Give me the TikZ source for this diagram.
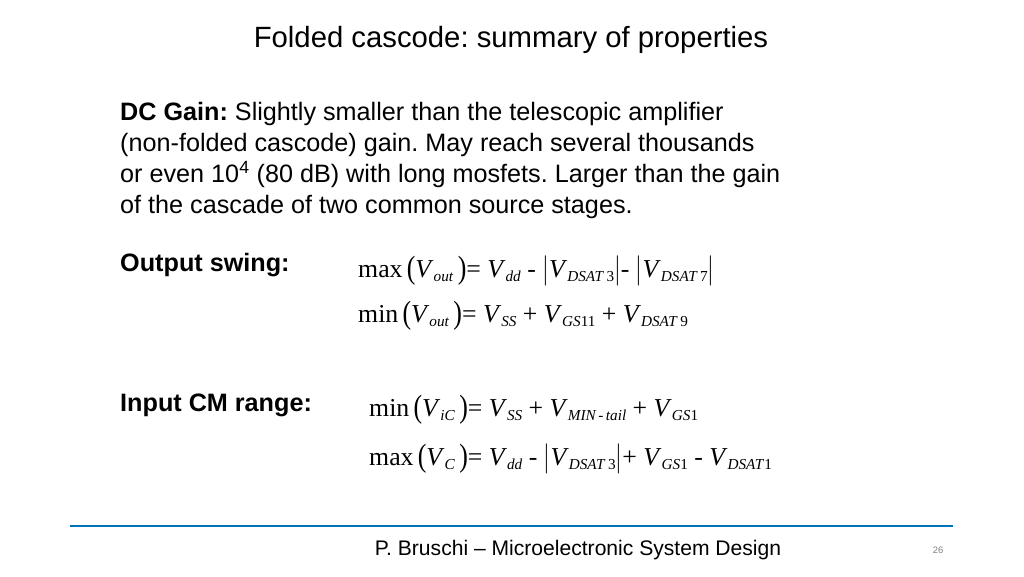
\documentclass[tikz,border=0pt]{standalone}
\usepackage{fontspec}
\setmainfont{Liberation Sans}
\newfontfamily\eqfont{Liberation Serif}
\usepackage{graphicx}
\usetikzlibrary{positioning}
\frenchspacing
\definecolor{rulebl}{RGB}{0,114,188}
\newcommand\Vs[2]{\textit{V}\raisebox{-0.4ex}{\fontsize{13}{13}\selectfont\textit{#1}#2}}
\newcommand\Bra[1]{\raisebox{-0.15ex}{\scalebox{1}[1.25]{#1}}}
\begin{document}
\begin{tikzpicture}[x=0.03cm,y=-0.03cm,
  bodytxt/.style={anchor=base west,inner sep=0pt,font=\fontsize{21.5}{24}\selectfont},
  eqtxt/.style={anchor=base west,inner sep=0pt,font=\eqfont\fontsize{22}{24}\selectfont}]
\useasboundingbox (0,0) rectangle (1024,576);

\node [font=\fontsize{25}{28}\selectfont] (title) at (511,40) {Folded cascode: summary of properties};

% DC gain paragraph
\node [bodytxt] (dc1) at (120,120) {\textbf{DC Gain:} Slightly smaller than the telescopic amplifier};
\node [bodytxt] (dc2) at (120,151) {(non-folded cascode) gain. May reach several thousands};
\node [bodytxt] (dc3) at (120,182) {or even 10\textsuperscript{4} (80 dB) with long mosfets. Larger than the gain};
\node [bodytxt] (dc4) at (120,213) {of the cascade of two common source stages.};

% output swing
\node [bodytxt] (outlbl) at (120,271) {\textbf{Output swing:}};
\node [eqtxt] (outmax) at (358,277) {max\,\Bra{(}\Vs{out}{}\,\Bra{)}=\ \Vs{dd}{}\ -\ \Bra{$|$}\Vs{DSAT}{\,3}\Bra{$|$}-\ \Bra{$|$}\Vs{DSAT}{\,7}\Bra{$|$}};
\node [eqtxt] (outmin) at (358,322) {min\,\Bra{(}\Vs{out}{}\,\Bra{)}=\ \Vs{SS}{}\ +\ \Vs{GS}{11}\ +\ \Vs{DSAT}{\,9}};

% input common mode range
\node [bodytxt] (inlbl) at (120,411) {\textbf{Input CM range:}};
\node [eqtxt] (inmin) at (369,416) {min\,\Bra{(}\Vs{iC}{}\,\Bra{)}=\ \Vs{SS}{}\ +\ \Vs{MIN\,-\,tail}{}\ +\ \Vs{GS}{1}};
\node [eqtxt] (inmax) at (369,465) {max\,\Bra{(}\Vs{C}{}\,\Bra{)}=\ \Vs{dd}{}\ -\ \Bra{$|$}\Vs{DSAT}{\,3}\Bra{$|$}+\ \Vs{GS}{1}\ -\ \Vs{DSAT}{1}};

% footer
\draw [rulebl, line width=2.5pt] (70,526) -- (953,526);
\node [font=\fontsize{18}{22}\selectfont] (foot) at (578,550) {P. Bruschi -- Microelectronic System Design};
\node [font=\fontsize{8}{10}\selectfont, text=gray] (page) at (938,550) {26};
\end{tikzpicture}
\end{document}
